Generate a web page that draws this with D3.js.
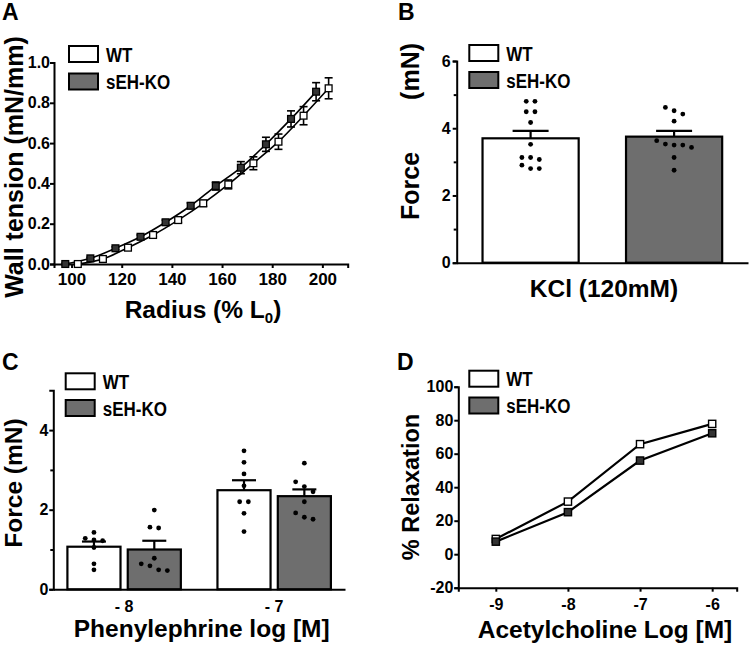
<!DOCTYPE html>
<html><head><meta charset="utf-8">
<script src="https://cdn.jsdelivr.net/npm/d3@7"></script>
<style>
body{margin:0;background:#fff}
svg{display:block}
text{font-family:"Liberation Sans",Arial,sans-serif;font-weight:bold;fill:#000}
</style></head><body>
<svg id="c" width="750" height="645"></svg>
<script>
// ---------- Panel A data ----------
const aRadiusKO = [97.5,107.5,117.5,127.5,137.5,147.5,157.5,167.5,177.5,187.5,197.5];
const aRadiusWT = [102.5,112.5,122.5,132.5,142.5,152.5,162.5,172.5,182.5,192.5,202.5];
const aTensionKO = [0.00,0.028,0.078,0.135,0.207,0.289,0.387,0.478,0.594,0.720,0.855];
const aSemKO     = [0.004,0.005,0.007,0.009,0.011,0.014,0.020,0.030,0.035,0.040,0.045];
const aTensionWT = [0.00,0.025,0.081,0.144,0.218,0.301,0.395,0.500,0.607,0.736,0.872];
const aSemWT     = [0.004,0.005,0.007,0.009,0.012,0.015,0.022,0.032,0.038,0.045,0.052];
const aXTicks = [100,120,140,160,180,200];
const aYTicks = [0,0.2,0.4,0.6,0.8,1.0];

// ---------- Panel B data ----------
const bGroups = ["WT","sEH-KO"];
const bMeans = [3.70,3.75];
const bSem = [0.22,0.17];
const bDotsWT = [4.80,4.80,4.49,4.49,4.17,3.52,3.13,3.13,3.07,2.90,2.80,2.80];
const bDotsKO = [4.62,4.52,4.42,4.21,3.63,3.53,3.50,3.50,3.43,3.13,2.75];
const bYTicks = [0,2,4,6];
const bYMinor = [1,3,5];

// ---------- Panel C data ----------
const cDoses = ["-8","-7"];
const cDoseLabels = ["- 8","- 7"];
const cMeansWT = [1.07,2.49];
const cSemWT = [0.13,0.25];
const cMeansKO = [1.00,2.34];
const cSemKO = [0.22,0.17];
const cDotsWT = [[1.43,1.28,1.24,1.22,1.05,0.64,0.49],[3.48,3.19,2.90,2.60,2.20,2.20,1.91,1.45]];
const cDotsKO = [[1.99,1.56,1.54,0.78,0.64,0.59,0.49,0.47],[3.17,2.70,2.58,2.45,2.20,1.92,1.81,1.76]];
const cYTicks = [0,2,4];
const cYMinor = [1,3];

// ---------- Panel D data ----------
const dDoses = [-9,-8,-7,-6];
const dWT = [9.1,31.4,65.7,77.8];
const dKO = [7.5,25.1,55.9,72.2];
const dYTicks = [-20,0,20,40,60,80,100];

const GRAY = "#6e6e6e";
const DARK = "#333333";
const svg = d3.select("#c");
const hyph = d => String(d);

function styleAxis(g){
  g.selectAll(".domain").attr("stroke","#000").attr("stroke-width",2);
  g.selectAll(".tick line").attr("stroke","#000").attr("stroke-width",2);
  g.selectAll(".tick text").style("font-size","16px").style("font-family",'"Liberation Sans",Arial,sans-serif').style("font-weight","bold").attr("fill","#000");
}
function legend(g,x,y1,y2){
  g.append("rect").attr("x",x).attr("y",y1).attr("width",29).attr("height",16).attr("fill","#fff").attr("stroke","#000").attr("stroke-width",2);
  g.append("text").attr("transform",`translate(${x+37},${y1+15.5}) scale(1,1.15)`).style("font-size","17px").text(bGroups[0]);
  g.append("rect").attr("x",x).attr("y",y2).attr("width",29).attr("height",16).attr("fill",GRAY).attr("stroke","#000").attr("stroke-width",2);
  g.append("text").attr("transform",`translate(${x+37},${y2+15.5}) scale(1,1.15)`).style("font-size","17px").text(bGroups[1]);
}
function panelLabel(t,x,y){
  svg.append("text").attr("x",x).attr("y",y).style("font-size","23px").text(t);
}
function yTitle(t,x,y,size){
  svg.append("text").attr("transform",`translate(${x},${y}) rotate(-90)`).attr("text-anchor","middle")
    .style("font-size",size+"px").text(t);
}
function swarm(vals,y,d,thr){
  const s = vals.slice().sort((a,b)=>b-a);
  const rows=[];
  s.forEach(v=>{
    const last=rows[rows.length-1];
    if(last && Math.abs(y(last[last.length-1])-y(v))<thr) last.push(v); else rows.push([v]);
  });
  const out=[];
  rows.forEach(r=>r.forEach((v,i)=>out.push({v,dx:(i-(r.length-1)/2)*d})));
  return out;
}

// ================= Panel A =================
{
  const x = d3.scaleLinear().domain([93,210.1]).range([54,347.7]);
  const y = d3.scaleLinear().domain([0,1]).range([264,62.5]);
  const g = svg.append("g");
  const xa = g.append("g").attr("transform","translate(0,264)")
    .call(d3.axisBottom(x).tickValues(aXTicks).tickFormat(d3.format("d")).tickSizeOuter(0).tickSize(4).tickPadding(5));
  styleAxis(xa);
  xa.selectAll(".tick text").style("font-size","17px");
  const ya = g.append("g").attr("transform","translate(54,0)")
    .call(d3.axisLeft(y).tickValues(aYTicks).tickFormat(d3.format(".1f")).tickSizeOuter(0).tickSize(4).tickPadding(0));
  styleAxis(ya);
  const series = [
    {xs:aRadiusWT, ys:aTensionWT, sem:aSemWT, fill:"#fff"},
    {xs:aRadiusKO, ys:aTensionKO, sem:aSemKO, fill:DARK}
  ];
  const line = d3.line().x(d=>x(d[0])).y(d=>y(d[1])).curve(d3.curveMonotoneX);
  series.forEach(s=>{
    const pts = s.xs.map((v,i)=>[v,s.ys[i],s.sem[i]]);
    g.append("path").attr("d",line(pts)).attr("fill","none").attr("stroke","#000").attr("stroke-width",1.6);
  });
  series.forEach(s=>{
    const pts = s.xs.map((v,i)=>[v,s.ys[i],s.sem[i]]);
    const eb = g.append("g");
    pts.forEach(p=>{
      const cx=x(p[0]), t=y(p[1]+p[2]), b=y(p[1]-p[2]);
      eb.append("line").attr("x1",cx).attr("x2",cx).attr("y1",t).attr("y2",b).attr("stroke","#000").attr("stroke-width",1.6);
      eb.append("line").attr("x1",cx-4).attr("x2",cx+4).attr("y1",t).attr("y2",t).attr("stroke","#000").attr("stroke-width",1.6);
      eb.append("line").attr("x1",cx-4).attr("x2",cx+4).attr("y1",b).attr("y2",b).attr("stroke","#000").attr("stroke-width",1.6);
    });
    g.append("g").selectAll("rect").data(pts).join("rect")
      .attr("x",d=>x(d[0])-3.4).attr("y",d=>y(d[1])-3.4).attr("width",6.8).attr("height",6.8)
      .attr("fill",s.fill).attr("stroke","#000").attr("stroke-width",1.3);
  });
  legend(g,69,46,73.5);
  const xt = g.append("text").attr("x",203).attr("y",318).attr("text-anchor","middle").style("font-size","24.5px");
  xt.append("tspan").text("Radius (% L");
  xt.append("tspan").attr("dy",5).style("font-size","15px").text("0");
  xt.append("tspan").attr("dy",-5).text(")");
  panelLabel("A",2,20);
  yTitle("Wall tension (mN/mm)",22.5,167,25);
}

// ================= Panel B =================
{
  const x = d3.scaleBand().domain(bGroups).range([456.7,748]).paddingInner(0.33).paddingOuter(0.18);
  const y = d3.scaleLinear().domain([0,6]).range([262.7,61]);
  const g = svg.append("g");
  const fills = ["#fff",GRAY];
  const dots = [bDotsWT,bDotsKO];
  bGroups.forEach((k,i)=>{
    g.append("rect").attr("x",x(k)).attr("y",y(bMeans[i])).attr("width",x.bandwidth()).attr("height",y(0)-y(bMeans[i]))
      .attr("fill",fills[i]).attr("stroke","#000").attr("stroke-width",2.2);
    const cx = x(k)+x.bandwidth()/2;
    const t = y(bMeans[i]+bSem[i]);
    g.append("line").attr("x1",cx).attr("x2",cx).attr("y1",t).attr("y2",y(bMeans[i])).attr("stroke","#000").attr("stroke-width",2.2);
    g.append("line").attr("x1",cx-18).attr("x2",cx+18).attr("y1",t).attr("y2",t).attr("stroke","#000").attr("stroke-width",2.2);
    g.append("g").selectAll("circle").data(swarm(dots[i],y,8.7,5.5)).join("circle")
      .attr("cx",d=>cx+d.dx).attr("cy",d=>y(d.v)).attr("r",2.4).attr("fill","#000");
  });
  const ya = g.append("g").attr("transform","translate(456.7,0)")
    .call(d3.axisLeft(y).tickValues(bYTicks).tickFormat(d3.format("d")).tickSizeOuter(0).tickSize(4).tickPadding(2));
  styleAxis(ya);
  const ym = g.append("g").attr("transform","translate(456.7,0)")
    .call(d3.axisLeft(y).tickValues(bYMinor).tickFormat("").tickSizeOuter(0).tickSize(3));
  styleAxis(ym); ym.select(".domain").remove();
  const xa = g.append("g").attr("transform","translate(0,262.7)")
    .call(d3.axisBottom(d3.scaleLinear().range([456.7,748])).tickValues([]).tickSizeOuter(0));
  styleAxis(xa);
  legend(g,469.3,45,72);
  g.append("text").attr("x",604).attr("y",297).attr("text-anchor","middle").style("font-size","24.5px").text("KCl (120mM)");
  panelLabel("B",398,20);
  // y title with the wide gap seen in the reference
  const yt = g.append("text").attr("transform","translate(419,220) rotate(-90)").style("font-size","25px");
  yt.append("tspan").text("Force");
  yt.append("tspan").attr("dx",52).text("(mN)");
}

// ================= Panel C =================
{
  const x0 = d3.scaleBand().domain(cDoses).range([53.3,345]).paddingInner(0.244).paddingOuter(0.094);
  const x1 = d3.scaleBand().domain(bGroups).range([0,x0.bandwidth()]).paddingInner(0.12);
  const y = d3.scaleLinear().domain([0,5]).range([589.3,390.3]);
  const g = svg.append("g");
  const fills = ["#fff",GRAY];
  cDoses.forEach((dose,j)=>{
    const means=[cMeansWT[j],cMeansKO[j]], sems=[cSemWT[j],cSemKO[j]], dots=[cDotsWT[j],cDotsKO[j]];
    bGroups.forEach((k,i)=>{
      const bx = x0(dose)+x1(k);
      g.append("rect").attr("x",bx).attr("y",y(means[i])).attr("width",x1.bandwidth()).attr("height",y(0)-y(means[i]))
        .attr("fill",fills[i]).attr("stroke","#000").attr("stroke-width",2.2);
      const cx = bx+x1.bandwidth()/2, t=y(means[i]+sems[i]);
      g.append("line").attr("x1",cx).attr("x2",cx).attr("y1",t).attr("y2",y(means[i])).attr("stroke","#000").attr("stroke-width",2.2);
      g.append("line").attr("x1",cx-12).attr("x2",cx+12).attr("y1",t).attr("y2",t).attr("stroke","#000").attr("stroke-width",2.2);
      g.append("g").selectAll("circle").data(swarm(dots[i],y,8.7,5.5)).join("circle")
        .attr("cx",d=>cx+d.dx).attr("cy",d=>y(d.v)).attr("r",2.4).attr("fill","#000");
    });
  });
  const ya = g.append("g").attr("transform","translate(53.3,0)")
    .call(d3.axisLeft(y).tickValues(cYTicks).tickFormat(d3.format("d")).tickSizeOuter(0).tickSize(4).tickPadding(1));
  styleAxis(ya);
  const ym = g.append("g").attr("transform","translate(53.3,0)")
    .call(d3.axisLeft(y).tickValues(cYMinor).tickFormat("").tickSizeOuter(0).tickSize(3));
  styleAxis(ym); ym.select(".domain").remove();
  const xa = g.append("g").attr("transform","translate(0,589.3)")
    .call(d3.axisBottom(x0).tickFormat((d,i)=>cDoseLabels[i]).tickSizeOuter(0).tickSize(0).tickPadding(11));
  styleAxis(xa);
  legend(g,65.7,373.3,400);
  g.append("text").attr("x",201.7).attr("y",637).attr("text-anchor","middle").style("font-size","24.5px").text("Phenylephrine log [M]");
  panelLabel("C",2,370);
  yTitle("Force (mN)",21.5,483,24.5);
}

// ================= Panel D =================
{
  const x = d3.scaleLinear().domain([-9.52,-5.66]).range([458.3,736.7]);
  const y = d3.scaleLinear().domain([-20,100]).range([587.7,386.7]);
  const g = svg.append("g");
  const xa = g.append("g").attr("transform","translate(0,587.7)")
    .call(d3.axisBottom(x).tickValues(dDoses).tickFormat(hyph).tickSizeOuter(0).tickSize(4).tickPadding(7));
  styleAxis(xa);
  const ya = g.append("g").attr("transform","translate(458.3,0)")
    .call(d3.axisLeft(y).tickValues(dYTicks).tickFormat(hyph).tickSizeOuter(0).tickSize(4).tickPadding(1));
  styleAxis(ya);
  const line = d3.line().x((d,i)=>x(dDoses[i])).y(d=>y(d));
  [[dWT,"#fff"],[dKO,DARK]].forEach(([vals,fill])=>{
    g.append("path").attr("d",line(vals)).attr("fill","none").attr("stroke","#000").attr("stroke-width",2.2);
  });
  [[dWT,"#fff"],[dKO,DARK]].forEach(([vals,fill])=>{
    g.append("g").selectAll("rect").data(vals).join("rect")
      .attr("x",(d,i)=>x(dDoses[i])-3.6).attr("y",d=>y(d)-3.6).attr("width",7.2).attr("height",7.2)
      .attr("fill",fill).attr("stroke","#000").attr("stroke-width",1.4);
  });
  legend(g,469.3,370.7,397.5);
  g.append("text").attr("x",605).attr("y",638).attr("text-anchor","middle").style("font-size","24.5px").text("Acetylcholine Log [M]");
  panelLabel("D",397,370);
  yTitle("% Relaxation",419,487,23.5);
}
</script>
</body></html>
